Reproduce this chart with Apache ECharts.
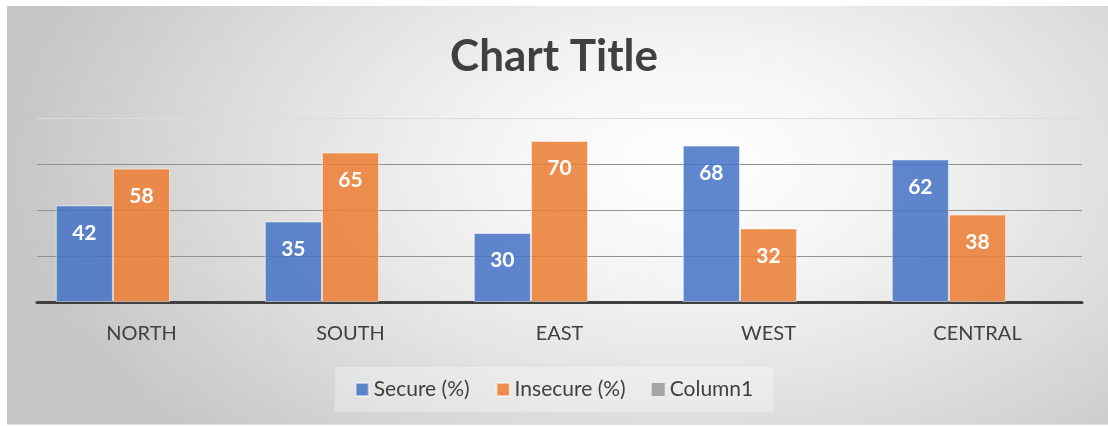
<!DOCTYPE html>
<html>
<head>
<meta charset="utf-8">
<script src="https://cdn.jsdelivr.net/npm/echarts@6/dist/echarts.min.js"></script>
<style>
    html, body {margin: 0; padding: 0; background: #fff;}
    #frame {
        position: absolute; left: 7px; top: 6px; width: 1101px; height: 418px;
        background: radial-gradient(ellipse 62% 95% at 62% 38%, #ffffff 0%, #f4f4f4 30%, #dedede 65%, #c6c6c6 100%);
        border-bottom: 1px solid #e0e0e0;
    }
    #main {position: absolute; left: 0; top: 0; width: 1108px; height: 426px;}
</style>
</head>
<body>
<div id="frame"></div>
<div id="main"></div>
<script>
var regions = ['NORTH', 'SOUTH', 'EAST', 'WEST', 'CENTRAL'];
var secure = [42, 35, 30, 68, 62];
var insecure = [58, 65, 70, 32, 38];
var column1 = [];

var myChart = echarts.init(document.getElementById('main'));
var font = 'Lato, "Open Sans", sans-serif';

var barLabel = {
    show: true,
    position: 'insideTop',
    distance: 17,
    color: '#fff',
    fontSize: 21,
    fontWeight: 'bold',
    fontFamily: font
};

var options = {
    backgroundColor: 'transparent',
    animation: false,
    title: {
        text: 'Chart Title',
        left: 'center',
        top: 30,
        textStyle: {fontSize: 44, fontWeight: 'bold', color: '#404040', fontFamily: font}
    },
    legend: {
        data: ['Secure (%)', 'Insecure (%)', 'Column1'],
        icon: 'rect',
        bottom: 14,
        left: 'center',
        itemWidth: 13,
        itemHeight: 13,
        itemGap: 26,
        padding: [12, 20],
        backgroundColor: 'rgba(255,255,255,0.3)',
        textStyle: {fontSize: 21, color: '#404040', fontFamily: font}
    },
    grid: {left: 37, right: 26, top: 118, bottom: 124},
    xAxis: {
        type: 'category',
        data: regions,
        axisLine: {lineStyle: {color: '#404040', width: 3}},
        axisTick: {show: false},
        axisLabel: {fontSize: 20, color: '#404040', margin: 22, fontFamily: font}
    },
    yAxis: {
        type: 'value',
        min: 0,
        max: 80,
        interval: 20,
        axisLabel: {show: false},
        axisLine: {show: false},
        splitLine: {lineStyle: {color: ['#919191', '#919191', '#919191', '#919191', '#dcdcdc'], width: 1}}
    },
    series: [
        {
            name: 'Secure (%)',
            type: 'bar',
            barGap: '0%',
            barCategoryGap: '18%',
            data: secure,
            itemStyle: {color: 'rgba(68,114,196,0.85)', borderColor: 'rgba(255,255,255,0.5)', borderWidth: 1},
            label: barLabel
        },
        {
            name: 'Insecure (%)',
            type: 'bar',
            data: insecure,
            itemStyle: {color: 'rgba(237,125,49,0.85)', borderColor: 'rgba(255,255,255,0.5)', borderWidth: 1},
            label: barLabel
        },
        {
            name: 'Column1',
            type: 'bar',
            data: column1,
            itemStyle: {color: '#a5a5a5'}
        }
    ]
};
myChart.setOption(options);
</script>
</body>
</html>
